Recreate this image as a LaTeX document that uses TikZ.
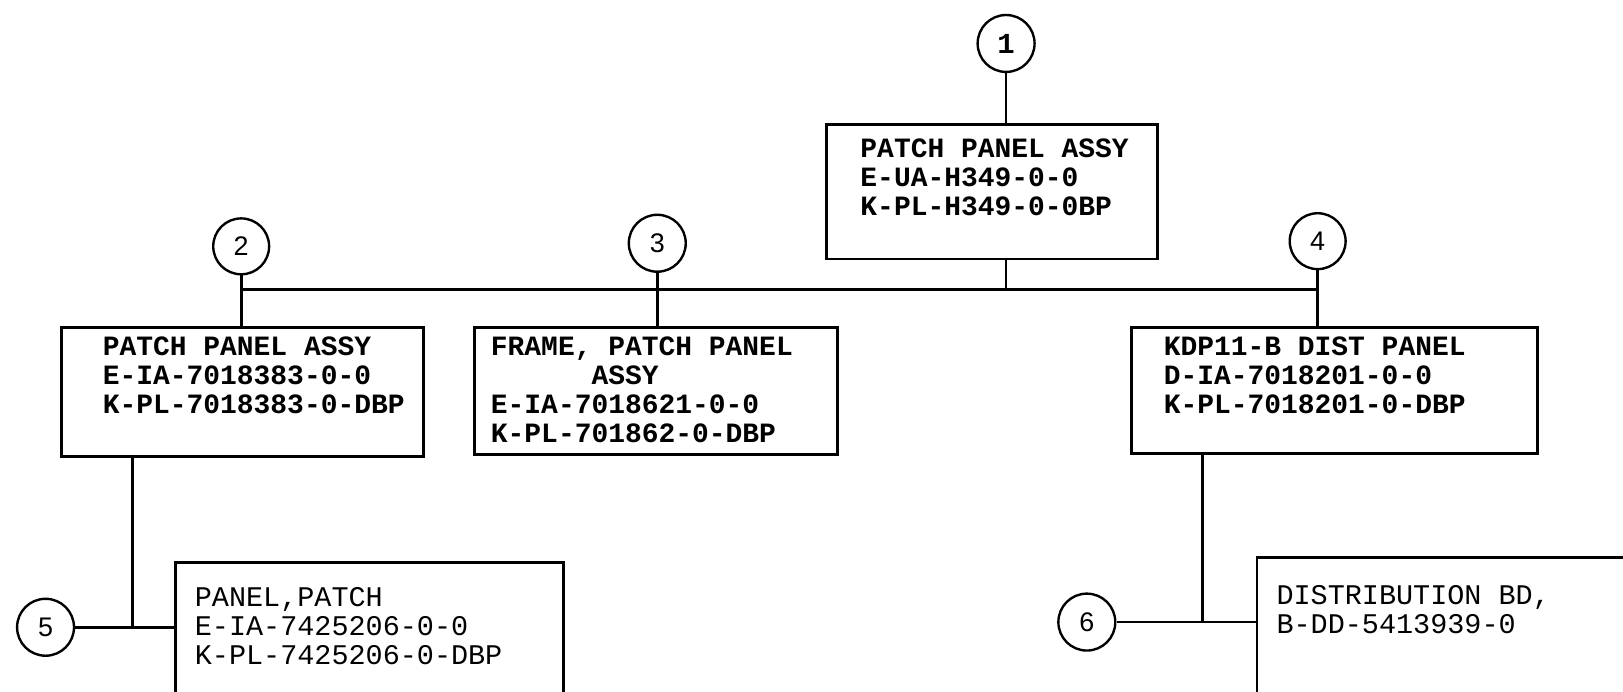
\documentclass[tikz,border=0pt]{standalone}
\usepackage{fontspec}
\newfontfamily\monof{Liberation Mono}
\newfontfamily\numf{Liberation Sans}
\begin{document}
\begin{tikzpicture}[x=1pt,y=-1pt,
  line width=2.6pt,
  boxst/.style={draw, rectangle, inner sep=0pt, anchor=north west},
  circst/.style={draw, circle, line width=2.3pt, inner sep=0pt, minimum size=55pt, font=\numf\fontsize{26}{26}\selectfont},
  btxt/.style={anchor=north west, inner sep=0pt, align=left, font=\monof\bfseries\fontsize{27}{28}\selectfont},
  rtxt/.style={anchor=north west, inner sep=0pt, align=left, font=\monof\fontsize{27.5}{28}\selectfont}]
\useasboundingbox (0,0) rectangle (1568,668.5);
% boxes
\node[boxst, minimum width=320pt, minimum height=130pt] (b1) at (797,119) {};
\node[boxst, minimum width=350pt, minimum height=125pt] (b2) at (58,315) {};
\node[boxst, minimum width=351pt, minimum height=123pt] (b3) at (457,315) {};
\node[boxst, minimum width=392pt, minimum height=122pt] (b4) at (1092,315) {};
\begin{scope}
\clip (0,0) rectangle (1568,668.5);
\node[boxst, minimum width=375pt, minimum height=170pt] (b5) at (168,542) {};
\node[boxst, minimum width=420pt, minimum height=170pt] (b6) at (1213,537) {};
\end{scope}
% texts
\node[btxt] (t1) at (830,133) {PATCH PANEL ASSY\\E-UA-H349-0-0\\K-PL-H349-0-0BP};
\node[btxt] (t2) at (98,324) {PATCH PANEL ASSY\\E-IA-7018383-0-0\\K-PL-7018383-0-DBP};
\node[btxt] (t3) at (473,324) {FRAME, PATCH PANEL\\\hspace*{3.6em}ASSY\\E-IA-7018621-0-0\\K-PL-701862-0-DBP};
\node[btxt] (t4) at (1123,324) {KDP11-B DIST PANEL\\D-IA-7018201-0-0\\K-PL-7018201-0-DBP};
\node[rtxt] (t5) at (187,566) {PANEL,PATCH\\E-IA-7425206-0-0\\K-PL-7425206-0-DBP};
\node[rtxt] (t6) at (1232,564) {DISTRIBUTION BD,\\B-DD-5413939-0};
% circles
\node[circst, font=\monof\bfseries\fontsize{28}{28}\selectfont] (c1) at (972,42) {1};
\node[circst, minimum size=54pt] (c2) at (233,238) {2};
\node[circst] (c3) at (635,235) {3};
\node[circst, minimum size=54pt] (c4) at (1273,233) {4};
\node[circst] (c5) at (44,606) {5};
\node[circst] (c6) at (1050,601) {6};
% connectors
\coordinate (bus) at (972,280);
\coordinate (j5) at (128,606);
\coordinate (j6) at (1162,601);
\draw (c1.south) -- (c1.south |- b1.north);
\draw (c1.south |- b1.south) -- (bus);
\draw (c2.south |- bus) -- (c4.south |- bus);
\draw (c2.south) -- (c2.south |- b2.north);
\draw (c3.south) -- (c3.south |- b3.north);
\draw (c4.south) -- (c4.south |- b4.north);
\draw (j5 |- b2.south) -- (j5);
\draw (c5.east) -- (j5 -| b5.west);
\draw (j6 |- b4.south) -- (j6);
\draw (c6.east) -- (j6 -| b6.west);
\end{tikzpicture}
\end{document}
